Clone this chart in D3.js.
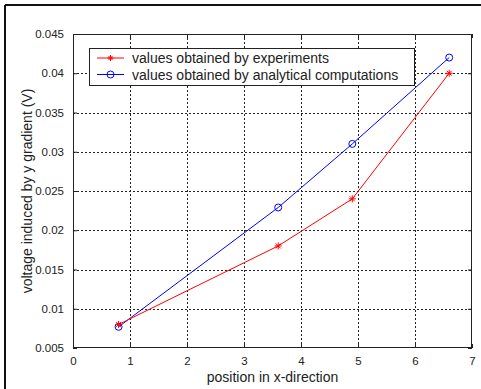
<!DOCTYPE html>
<html>
<head>
<meta charset="utf-8">
<script src="https://cdn.jsdelivr.net/npm/d3@7"></script>
<style>
  body { margin: 0; background: #fff; }
  svg { display: block; font-family: "Liberation Sans", Arial, sans-serif; }
</style>
</head>
<body>
<div id="chart"></div>
<script>
// data
var positions = [0.8, 3.6, 4.9, 6.6];
var experimentValues = [0.008, 0.018, 0.024, 0.040];
var analyticalValues = [0.0077, 0.0229, 0.031, 0.042];
var xTicks = [0, 1, 2, 3, 4, 5, 6, 7];
var yTicks = [0.005, 0.01, 0.015, 0.02, 0.025, 0.03, 0.035, 0.04, 0.045];
var seriesNames = ["values obtained by experiments", "values obtained by analytical computations"];

var margin = { top: 34, right: 9, bottom: 41, left: 73 },
    width = 481 - margin.left - margin.right,
    height = 389 - margin.top - margin.bottom;

var root = d3.select("#chart")
    .append("svg")
    .attr("width", 481)
    .attr("height", 389);

// outer frame (only top and left visible)
root.append("line").attr("x1", 5).attr("y1", 5).attr("x2", 481).attr("y2", 5)
    .attr("stroke", "#111").attr("stroke-width", 2);
root.append("line").attr("x1", 5).attr("y1", 5).attr("x2", 5).attr("y2", 389)
    .attr("stroke", "#111").attr("stroke-width", 2);

var svg = root.append("g")
    .attr("transform", "translate(" + margin.left + "," + margin.top + ")");

var xScale = d3.scaleLinear().domain([0, 7]).range([0, width]);
var yScale = d3.scaleLinear().domain([0.005, 0.045]).range([height, 0]);

// grid
svg.append("g").selectAll("line")
    .data(xTicks.slice(1, -1))
    .enter().append("line")
    .attr("x1", d => Math.round(xScale(d)) + 0.5)
    .attr("x2", d => Math.round(xScale(d)) + 0.5)
    .attr("y1", 0).attr("y2", height)
    .attr("stroke", "#222").attr("stroke-dasharray", "2,2");
svg.append("g").selectAll("line")
    .data(yTicks.slice(1, -1))
    .enter().append("line")
    .attr("y1", d => Math.round(yScale(d)) + 0.5)
    .attr("y2", d => Math.round(yScale(d)) + 0.5)
    .attr("x1", 0).attr("x2", width)
    .attr("stroke", "#222").attr("stroke-dasharray", "2,2");

// axes, ticks pointing inward
var xAxis = d3.axisBottom(xScale).tickValues(xTicks).tickFormat(d3.format("d"))
    .tickSizeInner(-4).tickSizeOuter(0).tickPadding(9);
var yAxis = d3.axisLeft(yScale).tickValues(yTicks).tickFormat(d => String(+d.toFixed(3)))
    .tickSizeInner(-4).tickSizeOuter(0).tickPadding(9);

var gx = svg.append("g").attr("transform", "translate(0," + height + ")").call(xAxis);
var gy = svg.append("g").call(yAxis);
svg.append("g").call(d3.axisTop(xScale).tickValues(xTicks).tickFormat("").tickSizeInner(-4).tickSizeOuter(0));
svg.append("g").attr("transform", "translate(" + width + ",0)")
    .call(d3.axisRight(yScale).tickValues(yTicks).tickFormat("").tickSizeInner(-4).tickSizeOuter(0));

svg.selectAll(".domain").remove();
svg.selectAll(".tick line").attr("stroke", "#222");
gx.selectAll("text").attr("font-size", "11.5px").attr("fill", "#222");
gy.selectAll("text").attr("font-size", "11.5px").attr("fill", "#222");

// axes box
svg.append("rect").attr("x", 0.5).attr("y", 0.5).attr("width", width - 1).attr("height", height - 1)
    .attr("fill", "none").attr("stroke", "#222");

// axis labels
root.append("text")
    .attr("x", margin.left + width / 2)
    .attr("y", 382)
    .attr("text-anchor", "middle")
    .attr("font-size", "14px")
    .attr("fill", "#222")
    .text("position in x-direction");
root.append("text")
    .attr("transform", "translate(32," + (margin.top + height / 2) + ") rotate(-90)")
    .attr("text-anchor", "middle")
    .attr("font-size", "14px")
    .attr("fill", "#222")
    .text("voltage induced by y gradient (V)");

var expData = positions.map((p, i) => ({ x: p, y: experimentValues[i] }));
var anaData = positions.map((p, i) => ({ x: p, y: analyticalValues[i] }));

var line = d3.line()
    .x(d => xScale(d.x))
    .y(d => yScale(d.y));

svg.append("path").datum(anaData)
    .attr("fill", "none").attr("stroke", "#0000ff").attr("stroke-width", 1)
    .attr("d", line);
svg.append("path").datum(expData)
    .attr("fill", "none").attr("stroke", "#ff0000").attr("stroke-width", 1)
    .attr("d", line);

function star(s) {
    var d = s * 0.7;
    return "M" + (-s) + ",0L" + s + ",0M0," + (-s) + "L0," + s +
        "M" + (-d) + "," + (-d) + "L" + d + "," + d + "M" + (-d) + "," + d + "L" + d + "," + (-d);
}

svg.selectAll(".ana-pt").data(anaData).enter().append("circle")
    .attr("class", "ana-pt")
    .attr("cx", d => xScale(d.x)).attr("cy", d => yScale(d.y))
    .attr("r", 3.5).attr("fill", "none").attr("stroke", "#0000ff");
svg.selectAll(".exp-pt").data(expData).enter().append("path")
    .attr("class", "exp-pt")
    .attr("transform", d => "translate(" + xScale(d.x) + "," + yScale(d.y) + ")")
    .attr("d", star(3.5)).attr("stroke", "#ff0000").attr("fill", "none");

// legend
var legend = root.append("g").attr("transform", "translate(89,48)");
legend.append("rect").attr("x", 0.5).attr("y", 0.5).attr("width", 325).attr("height", 37)
    .attr("fill", "#fff").attr("stroke", "#222");
var colors = ["#ff0000", "#0000ff"];
seriesNames.forEach(function (name, i) {
    var yy = 10 + i * 16.5;
    legend.append("line").attr("x1", 8).attr("x2", 35).attr("y1", yy).attr("y2", yy)
        .attr("stroke", colors[i]);
    if (i === 0) {
        legend.append("path").attr("transform", "translate(21.5," + yy + ")")
            .attr("d", star(3)).attr("stroke", colors[i]).attr("fill", "none");
    } else {
        legend.append("circle").attr("cx", 21.5).attr("cy", yy).attr("r", 3.5)
            .attr("fill", "none").attr("stroke", colors[i]);
    }
    legend.append("text").attr("x", 43).attr("y", yy + 5)
        .attr("font-size", "14px").attr("fill", "#222")
        .text(name);
});
</script>
</body>
</html>
